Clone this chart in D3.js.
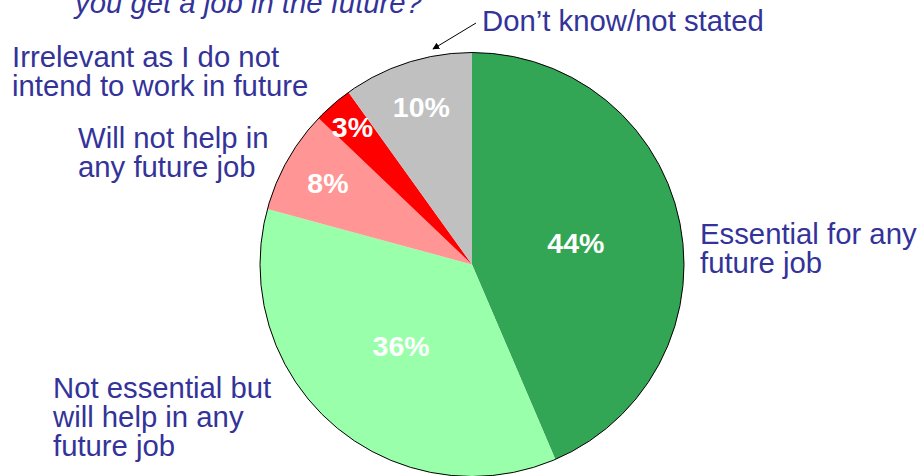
<!DOCTYPE html>
<html>
<head>
<meta charset="utf-8">
<script src="https://cdn.jsdelivr.net/npm/d3@7/dist/d3.min.js"></script>
<style>
  html, body { margin: 0; padding: 0; background: #ffffff; }
  svg { display: block; }
  text { font-family: Arial, "Liberation Sans", sans-serif; }
</style>
</head>
<body>
<svg id="chart" width="920" height="476"></svg>
<script>
// Survey answers, clockwise from twelve o'clock
const categories = [
  "Essential for any future job",
  "Not essential but will help in any future job",
  "Will not help in any future job",
  "Irrelevant as I do not intend to work in future",
  "Don\u2019t know/not stated"
];
const values = [44, 36, 8, 3, 10];
const sliceColors = ["#33a655", "#99ffaa", "#ff9595", "#ff0000", "#c0c0c0"];

// Category captions, split into lines
const captionLines = [
  ["Essential for any", "future job"],
  ["Not essential but", "will help in any", "future job"],
  ["Will not help in", "any future job"],
  ["Irrelevant as I do not", "intend to work in future"],
  ["Don\u2019t know/not stated"]
];
const captionPos = [
  [700, 244], [53, 398], [78, 148], [12, 67], [482, 31]
];
// Percentage label placement (fraction of radius from centre)
const labelRadius = [0.5, 0.51, 0.78, 0.86, 0.78];

const title = "you get a job in the future?";

const svg = d3.select("#chart");
const cx = 472, cy = 264.5, r = 212;
const textColor = "#333399";
const fontSize = 29.3, lineGap = 29;

const pie = d3.pie().sort(null).value(d => d);
const arcs = pie(values);
const arc = d3.arc().innerRadius(0).outerRadius(r);

const g = svg.append("g").attr("transform", `translate(${cx},${cy})`);

g.selectAll("path.slice")
  .data(arcs)
  .join("path")
  .attr("class", "slice")
  .attr("d", arc)
  .attr("fill", (d, i) => sliceColors[i]);

// thin outline round the pie
g.append("circle")
  .attr("r", r)
  .attr("fill", "none")
  .attr("stroke", "#000")
  .attr("stroke-width", 1);

// percentage labels
g.selectAll("text.pct")
  .data(arcs)
  .join("text")
  .attr("class", "pct")
  .attr("transform", (d, i) => {
    const a = d3.arc().innerRadius(r * labelRadius[i]).outerRadius(r * labelRadius[i]);
    const [x, y] = a.centroid(d);
    return `translate(${x},${y})`;
  })
  .attr("text-anchor", "middle")
  .attr("dy", "0.35em")
  .attr("fill", "#ffffff")
  .attr("font-weight", "bold")
  .attr("font-size", 28.5)
  .text(d => d.data + "%");

// title (partly above the top edge)
svg.append("text")
  .attr("x", 75)
  .attr("y", 12.5)
  .attr("fill", textColor)
  .attr("font-style", "italic")
  .attr("font-size", fontSize)
  .text(title);

// category captions
categories.forEach((c, i) => {
  const t = svg.append("text")
    .attr("x", captionPos[i][0])
    .attr("y", captionPos[i][1])
    .attr("fill", textColor)
    .attr("font-size", fontSize);
  captionLines[i].forEach((line, j) => {
    t.append("tspan")
      .attr("x", captionPos[i][0])
      .attr("dy", j === 0 ? 0 : lineGap)
      .text(line);
  });
});

// pointer from the "don't know" caption to its slice
svg.append("defs").append("marker")
  .attr("id", "arrowhead")
  .attr("viewBox", "0 0 10 10")
  .attr("refX", 9).attr("refY", 5)
  .attr("markerWidth", 7).attr("markerHeight", 7)
  .attr("orient", "auto")
  .append("path")
  .attr("d", "M0,0 L10,5 L0,10 Z")
  .attr("fill", "#000");

svg.append("line")
  .attr("x1", 476).attr("y1", 23)
  .attr("x2", 433).attr("y2", 49)
  .attr("stroke", "#000")
  .attr("stroke-width", 1)
  .attr("marker-end", "url(#arrowhead)");
</script>
</body>
</html>
